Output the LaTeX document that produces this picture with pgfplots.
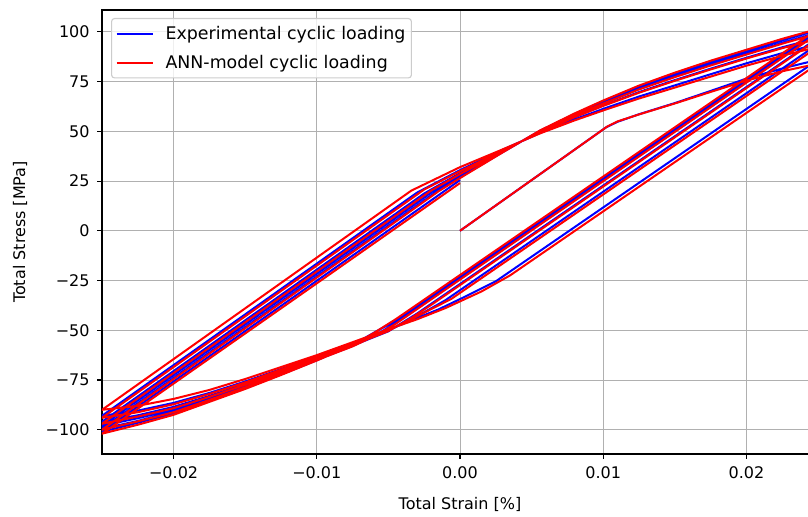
\documentclass[border=0pt]{standalone}
\usepackage{fontspec}
\setmainfont{DejaVu Sans}
\usepackage{pgfplots}
\pgfplotsset{compat=1.18}
\definecolor{gridgray}{RGB}{176,176,176}
\definecolor{legframe}{RGB}{204,204,204}
\begin{document}
\begin{tikzpicture}
\begin{axis}[name=ax,
  scale only axis, width=716bp, height=444bp,
  xmin=-0.025, xmax=0.025, ymin=-112.2, ymax=111,
  xtick={-0.02,-0.01,0,0.01,0.02},
  xticklabels={−0.02,−0.01,0.00,0.01,0.02},
  ytick={-100,-75,-50,-25,0,25,50,75,100},
  yticklabels={−100,−75,−50,−25,0,25,50,75,100},
  scaled x ticks=false, scaled y ticks=false,
  tick pos=left, tick align=outside,
  major tick length=4.9bp,
  tick style={black, line width=1.1bp},
  axis line style={line width=1.1bp},
  grid=major, grid style={color=gridgray, line width=1bp},
  tick label style={font=\fontsize{16bp}{19bp}\selectfont},
  xticklabel style={yshift=-4bp},
  yticklabel style={xshift=-4bp},
  label style={font=\fontsize{16bp}{19bp}\selectfont},
  xlabel={Total Strain [\%]}, ylabel={Total Stress [MPa]},
  xlabel style={at={(axis description cs:0.5,-0.1137)}, anchor=center},
  ylabel style={at={(axis description cs:-0.1145,0.5)}, anchor=center},
  legend style={at={(axis description cs:0.0126,0.982)}, anchor=north west,
    draw=legframe, rounded corners=3bp, line width=1.1bp, fill=white,
    fill opacity=0.8, draw opacity=1, text opacity=1,
    font=\fontsize{17.4bp}{20bp}\selectfont, row sep=10bp, column sep=10bp,
    inner xsep=4bp, inner ysep=6bp},
  legend cell align=left,
  legend image code/.code={\draw[#1] (0bp,0bp) -- (36bp,0bp);},
]
\addplot[blue, line width=2bp] coordinates {
(0,0) (0.0102,52) (0.011,54.8) (0.0125,58.6) (0.015,64.2) (0.0175,70.3) (0.02,76.5) (0.0225,81.6) (0.025,86)
(0.0025,-25.4) (0.0005,-32.6) (-0.0015,-39.5) (-0.0035,-45.3) (-0.005,-49.9) (-0.0075,-56.6) (-0.01,-63.25) (-0.0125,-69.5) (-0.015,-75.75) (-0.0175,-81.5) (-0.02,-86.5) (-0.0225,-90.4) (-0.025,-93)
(-0.003,19.2) (0,30.5) (0.003,40.8) (0.0056,49.2) (0.008,56) (0.01,61.3) (0.0125,67.5) (0.015,73.1) (0.0175,78.7) (0.02,84.2) (0.0225,89.3) (0.025,93.9)
(-0.001,-34.8) (-0.003,-43) (-0.005,-50.25) (-0.0075,-57.25) (-0.01,-64) (-0.0125,-70.5) (-0.015,-77) (-0.0175,-83) (-0.02,-88.5) (-0.0225,-92.75) (-0.025,-96)
(-0.0025,18.75) (0,29) (0.003,40.2) (0.0056,49.75) (0.008,57.25) (0.01,63) (0.0125,69.75) (0.015,75.75) (0.0175,81.5) (0.02,87) (0.0225,92.25) (0.025,97)
(-0.003,-41.6) (-0.005,-50.5) (-0.0075,-57.7) (-0.01,-64.5) (-0.0125,-71.2) (-0.015,-77.8) (-0.0175,-84) (-0.02,-89.8) (-0.0225,-94.2) (-0.025,-98)
(-0.002,19.3) (0,28) (0.003,39.9) (0.0056,50.1) (0.008,58.1) (0.01,64.25) (0.0125,71.4) (0.015,77.6) (0.0175,83.5) (0.02,89) (0.0225,94.5) (0.025,99.6)
(-0.004,-44) (-0.0055,-50.8) (-0.0075,-57.9) (-0.01,-64.9) (-0.0125,-71.7) (-0.015,-78.5) (-0.0175,-84.75) (-0.02,-90.8) (-0.0225,-95.6) (-0.025,-99.5)
(-0.0015,20.35) (0,27) (0.003,39.6) (0.0056,50.35) (0.008,58.65) (0.01,65) (0.0125,72.4) (0.015,78.75) (0.0175,84.7) (0.02,90.2) (0.0225,95.75) (0.025,100.9)
(-0.0045,-45.1) (-0.006,-51.2) (-0.0075,-57.4) (-0.01,-65.1) (-0.0125,-72.2) (-0.015,-79.1) (-0.0175,-85.5) (-0.02,-91.8) (-0.0225,-96.5) (-0.025,-101)
(0,25.5)
};
\addlegendentry{Experimental cyclic loading}
\addplot[red, line width=2bp] coordinates {
(0,0) (0.0103,52.5) (0.011,55) (0.0125,58.5) (0.015,64) (0.0175,69.8) (0.02,75.5) (0.0225,80.2) (0.025,84)
(0.0035,-22.4) (0.0015,-30.5) (-0.001,-38.8) (-0.003,-44.5) (-0.005,-49.5) (-0.0075,-56) (-0.01,-62.5) (-0.0125,-68.5) (-0.015,-74.5) (-0.0175,-80) (-0.02,-84.5) (-0.0225,-88) (-0.025,-90)
(-0.0034,20.2) (0,32) (0.003,41) (0.0056,49) (0.008,55.5) (0.01,60.5) (0.0125,66.5) (0.015,72) (0.0175,77.5) (0.02,83) (0.0225,88) (0.025,92.5)
(-0.0006,-34.2) (-0.003,-43) (-0.005,-50) (-0.0075,-56.8) (-0.01,-63.5) (-0.0125,-69.8) (-0.015,-76.2) (-0.0175,-82) (-0.02,-87.2) (-0.0225,-91.2) (-0.025,-94)
(-0.0025,20.75) (0,30) (0.003,40.3) (0.0056,49.7) (0.008,57.1) (0.01,62.8) (0.0125,69.4) (0.015,75.4) (0.0175,81.1) (0.02,86.6) (0.0225,91.8) (0.025,96.5)
(-0.002,-37.2) (-0.0035,-44.3) (-0.005,-50.4) (-0.0075,-57.5) (-0.01,-64.2) (-0.0125,-70.8) (-0.015,-77.4) (-0.0175,-83.5) (-0.02,-89.2) (-0.0225,-93.4) (-0.025,-97)
(-0.002,20.3) (0,28.5) (0.003,40) (0.0056,50.05) (0.008,57.95) (0.01,64) (0.0125,71.05) (0.015,77.25) (0.0175,83.1) (0.02,88.6) (0.0225,94.05) (0.025,99.2)
(-0.0045,-46.8) (-0.006,-53) (-0.0075,-58.1) (-0.01,-65) (-0.0125,-71.8) (-0.015,-78.7) (-0.0175,-85) (-0.02,-91.2) (-0.0225,-95.8) (-0.025,-100)
(-0.0015,19.85) (0,26.5) (0.003,39.5) (0.0056,50.5) (0.008,59) (0.01,65.5) (0.0125,73) (0.015,79.5) (0.0175,85.5) (0.02,91) (0.0225,96.5) (0.025,101.5)
(-0.0045,-44.5) (-0.006,-51.3) (-0.0075,-57.6) (-0.01,-65.2) (-0.0125,-72.5) (-0.015,-79.5) (-0.0175,-86) (-0.02,-92.5) (-0.0225,-97.5) (-0.025,-102)
(0,24)
};
\addlegendentry{ANN-model cyclic loading}
\end{axis}
\pgfresetboundingbox
\path[use as bounding box] ([xshift=-102bp,yshift=-63bp]ax.south west) rectangle ([xshift=706bp,yshift=454bp]ax.south west);
\end{tikzpicture}
\end{document}
